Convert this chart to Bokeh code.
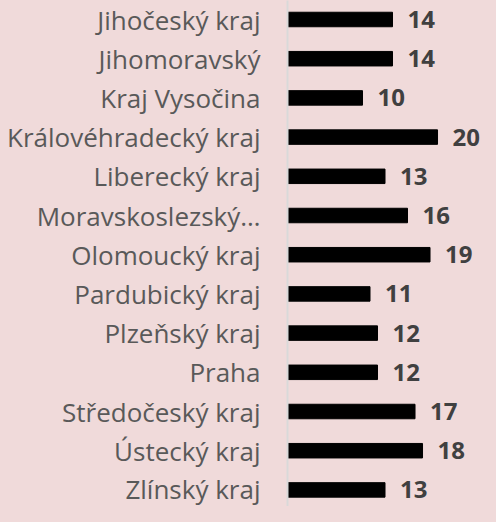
from bokeh.plotting import figure
from bokeh.models import Range1d, FixedTicker, ColumnDataSource
from bokeh.core.properties import value
from bokeh.embed import file_html
from bokeh.resources import INLINE

regions = ["Jihočeský kraj", "Jihomoravský", "Kraj Vysočina", "Královéhradecký kraj",
           "Liberecký kraj", "Moravskoslezský…", "Olomoucký kraj", "Pardubický kraj",
           "Plzeňský kraj", "Praha", "Středočeský kraj", "Ústecký kraj", "Zlínský kraj"]
counts = [14, 14, 10, 20, 13, 16, 19, 11, 12, 12, 17, 18, 13]

BG = "#F0DADA"
pos = list(range(len(regions)))
src = ColumnDataSource(dict(y=pos, v=counts, lbl=[str(c) for c in counts]))

p = figure(width=480, height=506, output_backend="svg", toolbar_location=None,
           x_range=Range1d(0, 25.73), y_range=Range1d(12.423, -0.4847),
           x_axis_location=None, min_border_left=287, min_border_right=0,
           min_border_top=0, min_border_bottom=0)
p.background_fill_color = BG
p.border_fill_color = BG
p.outline_line_color = None
p.xgrid.visible = False
p.ygrid.visible = False

p.hbar(y="y", right="v", left=0, height=0.37, source=src, color="black")
p.text(x="v", y="y", text="lbl", source=src, x_offset=15, text_baseline="middle",
       text_align="left", text_font=value("Open Sans"), text_font_style="bold",
       text_font_size="24px", text_color="#404040")

ax = p.yaxis[0]
ax.ticker = FixedTicker(ticks=pos)
ax.major_label_overrides = {i: r for i, r in zip(pos, regions)}
ax.major_tick_line_color = None
ax.major_tick_out = 0
ax.major_tick_in = 0
ax.minor_tick_line_color = None
ax.major_label_standoff = 27
ax.major_label_text_font = "Open Sans"
ax.major_label_text_font_size = "26px"
ax.major_label_text_color = "#595959"
ax.axis_line_color = "#D9D9D9"
ax.axis_line_width = 2

html = file_html(p, INLINE)
html = html.replace("</head>", "<style>body{background:%s;}</style></head>" % BG, 1)
open("out.html", "w").write(html)
